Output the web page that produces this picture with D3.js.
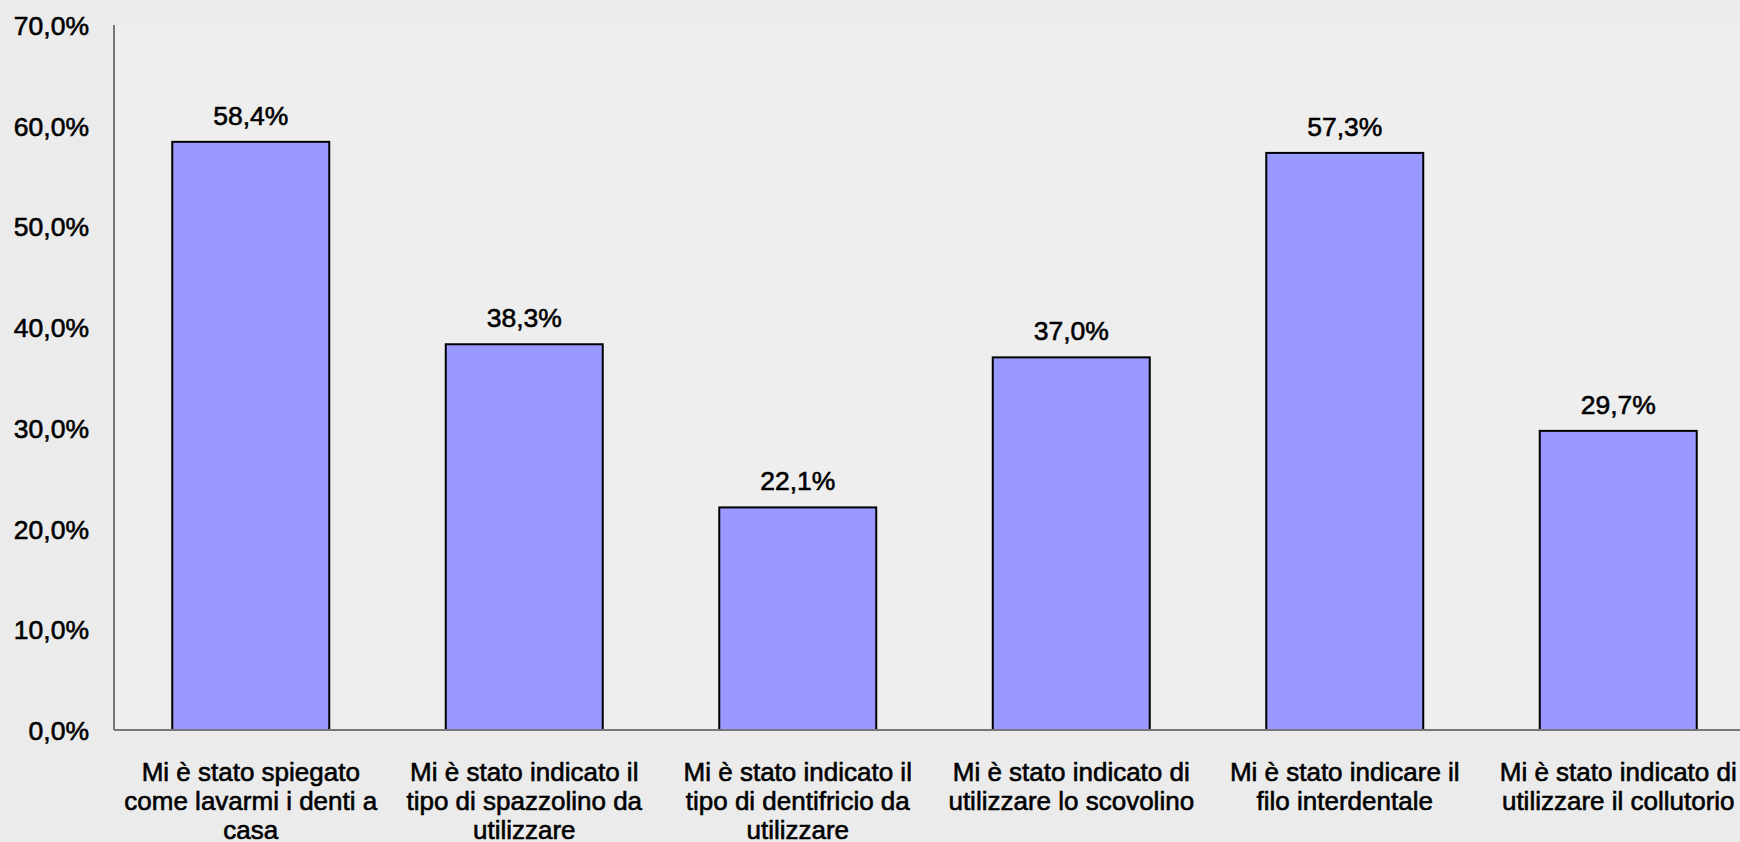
<!DOCTYPE html>
<meta charset="utf-8">
<style>
body { margin: 0; background: #ebebeb; }
text { font-family: "Liberation Sans", Arial, sans-serif; fill: #000; stroke: #000; stroke-width: 0.6px; }
</style>
<svg width="1740" height="842"></svg>
<script src="https://d3js.org/d3.v7.min.js"></script>
<script>

// categories, already split on the lines used in the picture
var categories = [
  "Mi è stato spiegato\ncome lavarmi i denti a\ncasa",
  "Mi è stato indicato il\ntipo di spazzolino da\nutilizzare",
  "Mi è stato indicato il\ntipo di dentifricio da\nutilizzare",
  "Mi è stato indicato di\nutilizzare lo scovolino",
  "Mi è stato indicare il\nfilo interdentale",
  "Mi è stato indicato di\nutilizzare il collutorio"
];

// percent values
var values = [58.4, 38.3, 22.1, 37.0, 57.3, 29.7];

var y_ticks = [0, 10, 20, 30, 40, 50, 60, 70];

var bar_colour = "#9999ff";
var axis_colour = "#777777";

var svg = d3.select("svg"),
    width = +svg.attr("width"),
    height = +svg.attr("height");

var left = 114, top_y = 25, bottom_y = 730;

// plot area is a touch lighter than the page
svg.append("rect")
   .attr("x", left)
   .attr("y", top_y)
   .attr("width", width - left)
   .attr("height", bottom_y - top_y)
   .style("fill", "#eeeeee");

// the band range runs past the right edge, the last label is cut like in the picture
var x = d3.scaleBand()
    .domain(categories)
    .range([left, left + 6 * 273.5])
    .paddingInner(0.426)
    .paddingOuter(0.213);

var y = d3.scaleLinear()
    .domain([0, 70])
    .range([bottom_y, top_y]);

var fmt = function(v) { return d3.format(".1f")(v).replace(".", ",") + "%"; };

// y tick labels (no tick marks)
svg.append("g")
   .selectAll("text")
   .data(y_ticks)
   .enter().append("text")
   .attr("x", 89)
   .attr("y", function(d) { return y(d) + 10; })
   .attr("text-anchor", "end")
   .style("font-size", "26.5px")
   .text(fmt);

// bars
svg.append("g")
   .selectAll("rect")
   .data(values)
   .enter().append("rect")
   .attr("x", function(d, i) { return x(categories[i]); })
   .attr("y", function(d) { return y(d); })
   .attr("width", x.bandwidth())
   .attr("height", function(d) { return y(0) - y(d); })
   .style("fill", bar_colour)
   .style("stroke", "#000")
   .style("stroke-width", 2);

// value labels
svg.append("g")
   .selectAll("text")
   .data(values)
   .enter().append("text")
   .attr("x", function(d, i) { return x(categories[i]) + x.bandwidth() / 2; })
   .attr("y", function(d) { return y(d) - 17; })
   .attr("text-anchor", "middle")
   .style("font-size", "26.5px")
   .text(fmt);

// axes lines
svg.append("line")
   .attr("x1", left).attr("x2", left)
   .attr("y1", top_y).attr("y2", bottom_y)
   .style("stroke", axis_colour)
   .style("stroke-width", 2);

svg.append("line")
   .attr("x1", left).attr("x2", width)
   .attr("y1", bottom_y).attr("y2", bottom_y)
   .style("stroke", axis_colour)
   .style("stroke-width", 2);

// category labels
var cat = svg.append("g")
   .selectAll("text")
   .data(categories)
   .enter().append("text")
   .attr("text-anchor", "middle")
   .attr("transform", function(d) { return "translate(" + (x(d) + x.bandwidth() / 2) + "," + (bottom_y + 51) + ")"; })
   .style("font-size", "26px");

cat.selectAll("tspan")
   .data(function(d) { return d.split("\n"); })
   .enter().append("tspan")
   .attr("x", 0)
   .attr("y", function(d, i) { return i * 29; })
   .text(function(d) { return d; });

</script>
